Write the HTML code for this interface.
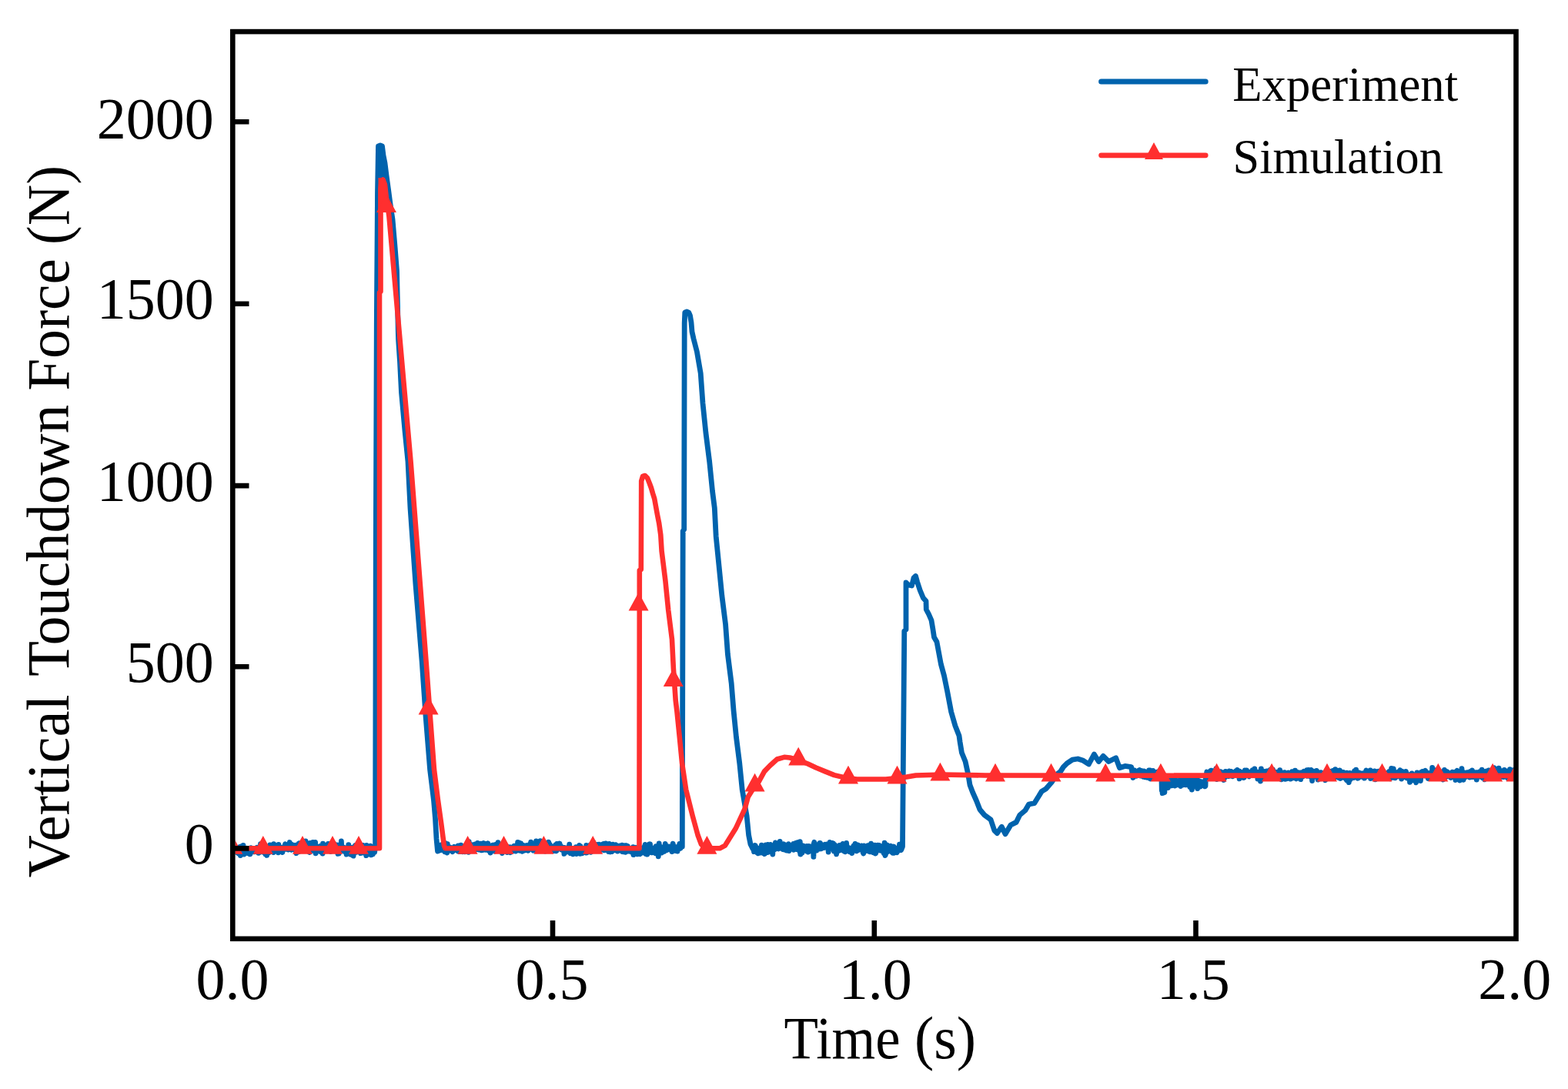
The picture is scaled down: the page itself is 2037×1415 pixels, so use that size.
<!DOCTYPE html>
<html><head><meta charset="utf-8"><title>Vertical Touchdown Force</title>
<style>
html,body{margin:0;padding:0;background:#fff;}
body{width:2037px;height:1415px;overflow:hidden;}
svg{display:block;}
text{font-family:"Liberation Serif","Times New Roman",serif;fill:#000;}
</style></head><body>
<svg width="2037" height="1415" viewBox="0 0 2037 1415">
<defs><clipPath id="pa"><rect x="305.5" y="44.3" width="1660.8" height="1172.3"/></clipPath></defs>
<rect width="2037" height="1415" fill="#fff"/>
<g clip-path="url(#pa)" fill="none" stroke-linejoin="round" stroke-linecap="butt">
<path d="M303.0 1104.0L303.4 1105.7L303.9 1104.1L304.3 1102.4L304.8 1103.5L305.2 1102.9L305.7 1104.2L306.1 1106.3L306.6 1101.7L307.0 1105.9L307.5 1105.1L307.9 1105.4L308.4 1107.9L308.8 1102.1L309.3 1107.1L309.7 1108.8L310.2 1103.2L310.6 1108.1L311.1 1100.7L311.5 1101.8L312.0 1103.3L312.4 1111.7L312.9 1100.0L313.3 1106.4L313.8 1106.1L314.2 1100.0L314.7 1102.6L315.1 1102.0L315.6 1107.6L316.0 1098.3L316.5 1106.6L316.9 1110.2L317.4 1104.8L317.8 1104.2L318.3 1105.4L318.7 1105.9L319.2 1106.5L319.6 1105.7L320.1 1104.1L320.5 1102.3L321.0 1105.2L321.4 1108.6L321.9 1105.5L322.3 1106.1L322.8 1107.9L323.2 1105.8L323.7 1103.1L324.1 1108.2L324.6 1103.9L325.0 1109.9L325.5 1106.2L325.9 1101.7L326.4 1107.5L326.8 1106.7L327.3 1105.9L327.7 1104.3L328.2 1104.3L328.6 1104.5L329.1 1102.8L329.5 1103.0L330.0 1104.7L330.4 1106.8L330.9 1103.5L331.3 1105.7L331.8 1104.9L332.2 1102.7L332.7 1103.3L333.1 1106.9L333.6 1104.1L334.0 1101.2L334.5 1105.7L334.9 1107.5L335.4 1104.7L335.8 1108.4L336.3 1102.5L336.7 1100.9L337.2 1102.5L337.6 1103.5L338.1 1107.1L338.5 1096.6L339.0 1105.0L339.4 1104.0L339.9 1103.1L340.3 1104.3L340.8 1100.3L341.2 1103.3L341.7 1101.9L342.1 1098.7L342.6 1105.4L343.0 1107.7L343.5 1103.4L343.9 1108.2L344.4 1102.5L344.8 1109.7L345.3 1108.0L345.7 1109.0L346.2 1106.9L346.6 1111.4L347.1 1104.7L347.5 1103.4L348.0 1105.5L348.4 1102.9L348.9 1108.2L349.3 1103.2L349.8 1105.2L350.2 1104.3L350.7 1097.9L351.1 1106.4L351.6 1103.1L352.0 1103.3L352.5 1103.4L352.9 1102.7L353.4 1100.4L353.8 1104.9L354.3 1105.0L354.7 1102.0L355.2 1107.5L355.6 1096.7L356.1 1100.4L356.5 1100.7L357.0 1103.0L357.4 1106.0L357.9 1100.4L358.3 1105.6L358.8 1102.8L359.2 1100.7L359.7 1103.5L360.1 1100.2L360.6 1098.3L361.0 1098.4L361.5 1107.8L361.9 1097.4L362.4 1103.6L362.8 1102.5L363.3 1100.3L363.7 1103.1L364.2 1101.4L364.6 1101.0L365.1 1102.6L365.5 1101.3L366.0 1102.3L366.4 1102.5L366.9 1107.5L367.3 1104.0L367.8 1104.2L368.2 1101.2L368.7 1102.9L369.1 1100.2L369.6 1100.2L370.0 1098.6L370.5 1096.8L370.9 1101.2L371.4 1099.7L371.8 1103.3L372.3 1100.1L372.7 1101.7L373.2 1101.9L373.6 1101.6L374.1 1103.2L374.5 1104.0L375.0 1100.5L375.4 1101.3L375.9 1097.4L376.3 1094.5L376.8 1102.0L377.2 1101.7L377.7 1097.7L378.1 1102.4L378.6 1104.2L379.0 1097.9L379.5 1097.6L379.9 1101.0L380.4 1100.2L380.8 1101.9L381.3 1098.3L381.7 1101.4L382.2 1103.6L382.6 1101.6L383.1 1104.4L383.5 1100.3L384.0 1098.3L384.4 1103.0L384.9 1108.6L385.3 1102.2L385.8 1101.6L386.2 1101.1L386.7 1098.6L387.1 1097.9L387.6 1096.6L388.0 1106.8L388.5 1098.9L388.9 1095.6L389.4 1098.3L389.8 1101.3L390.3 1099.3L390.7 1097.3L391.2 1096.5L391.6 1098.7L392.1 1102.5L392.5 1100.9L393.0 1102.8L393.4 1098.3L393.9 1100.9L394.3 1101.2L394.8 1100.3L395.2 1104.6L395.7 1102.2L396.1 1105.0L396.6 1100.0L397.0 1092.9L397.5 1100.1L397.9 1096.6L398.4 1096.9L398.8 1104.5L399.3 1099.5L399.7 1099.7L400.2 1095.8L400.6 1098.7L401.1 1102.9L401.5 1105.1L402.0 1107.6L402.4 1100.2L402.9 1095.5L403.3 1101.9L403.8 1104.0L404.2 1101.1L404.7 1103.3L405.1 1101.4L405.6 1100.0L406.0 1105.4L406.5 1094.3L406.9 1102.4L407.4 1104.3L407.8 1103.0L408.3 1103.6L408.7 1101.6L409.2 1104.7L409.6 1094.4L410.1 1108.9L410.5 1100.4L411.0 1107.0L411.4 1105.9L411.9 1102.8L412.3 1104.4L412.8 1105.9L413.2 1104.9L413.7 1105.6L414.1 1101.0L414.6 1102.0L415.0 1100.1L415.5 1099.7L415.9 1103.7L416.4 1100.9L416.8 1106.7L417.3 1101.0L417.7 1100.5L418.2 1102.8L418.6 1104.5L419.1 1109.2L419.5 1096.2L420.0 1101.8L420.4 1103.6L420.9 1103.0L421.3 1105.4L421.8 1098.2L422.2 1102.9L422.7 1103.2L423.1 1103.8L423.6 1103.9L424.0 1102.0L424.5 1099.8L424.9 1104.0L425.4 1102.6L425.8 1100.7L426.3 1096.4L426.7 1105.0L427.2 1104.8L427.6 1097.3L428.1 1103.5L428.5 1099.8L429.0 1096.5L429.4 1102.9L429.9 1106.5L430.3 1103.0L430.8 1100.3L431.2 1101.3L431.7 1105.3L432.1 1104.4L432.6 1100.4L433.0 1101.1L433.5 1104.8L433.9 1096.4L434.4 1101.2L434.8 1103.1L435.3 1101.7L435.7 1099.8L436.2 1098.5L436.6 1100.9L437.1 1100.2L437.5 1104.3L438.0 1097.9L438.4 1104.3L438.9 1109.4L439.3 1104.3L439.8 1100.4L440.2 1109.0L440.7 1105.4L441.1 1104.0L441.6 1102.0L442.0 1102.7L442.5 1105.6L442.9 1104.0L443.4 1093.0L443.8 1101.8L444.3 1104.3L444.7 1104.6L445.2 1102.0L445.6 1104.6L446.1 1105.8L446.5 1104.0L447.0 1101.2L447.4 1104.5L447.9 1105.7L448.3 1107.0L448.8 1105.4L449.2 1104.4L449.7 1104.9L450.1 1110.2L450.6 1106.8L451.0 1106.5L451.5 1107.6L451.9 1102.8L452.4 1107.3L452.8 1097.6L453.3 1104.4L453.7 1103.6L454.2 1103.7L454.6 1105.5L455.1 1108.5L455.5 1110.4L456.0 1108.0L456.4 1101.5L456.9 1107.6L457.3 1106.8L457.8 1106.1L458.2 1105.5L458.7 1101.6L459.1 1112.1L459.6 1106.1L460.0 1100.5L460.5 1104.9L460.9 1105.7L461.4 1103.7L461.8 1098.3L462.3 1102.0L462.7 1100.8L463.2 1107.3L463.6 1105.5L464.1 1101.7L464.5 1102.7L465.0 1103.1L465.4 1098.3L465.9 1096.2L466.3 1098.9L466.8 1106.1L467.2 1104.4L467.7 1104.1L468.1 1100.8L468.6 1108.7L469.0 1098.2L469.5 1101.6L469.9 1102.6L470.4 1106.4L470.8 1101.7L471.3 1098.4L471.7 1106.7L472.2 1108.0L472.6 1104.8L473.1 1102.6L473.5 1107.5L474.0 1107.6L474.4 1105.6L474.9 1108.5L475.3 1103.7L475.8 1111.7L476.2 1098.4L476.7 1101.2L477.1 1104.2L477.6 1101.1L478.0 1109.1L478.5 1106.9L478.9 1107.6L479.4 1105.9L479.8 1105.7L480.3 1099.4L480.7 1104.9L481.2 1099.2L481.6 1110.8L482.1 1110.9L482.5 1109.5L483.0 1110.7L483.4 1105.2L483.9 1105.2L484.3 1110.1L484.8 1102.8L485.2 1107.9L485.7 1107.4L486.1 1107.4L486.6 1107.5L487.6 1100.0L488.3 700.0L489.3 420.0L490.5 250.0L491.5 190.0L494.0 189.0L496.5 190.0L498.0 202.0L500.0 212.0L502.0 228.0L504.5 246.0L507.0 265.0L510.0 285.0L513.0 320.0L515.5 352.0L516.2 385.0L517.5 440.0L519.5 470.0L521.5 510.0L526.0 560.0L530.0 600.0L533.0 660.0L540.0 760.0L548.2 860.0L553.0 930.0L558.6 1000.0L563.5 1040.0L565.5 1064.0L567.0 1090.0L568.5 1106.0L570.0 1105.5L570.5 1101.3L570.9 1102.1L571.4 1105.0L571.8 1101.5L572.3 1100.6L572.7 1100.3L573.2 1102.9L573.6 1097.6L574.1 1102.4L574.5 1101.1L575.0 1102.7L575.4 1104.3L575.9 1102.8L576.3 1098.5L576.8 1102.4L577.2 1106.1L577.7 1106.7L578.1 1101.0L578.6 1095.7L579.0 1103.1L579.5 1096.9L579.9 1100.4L580.4 1106.9L580.8 1108.0L581.3 1096.6L581.7 1102.8L582.2 1102.1L582.6 1102.9L583.1 1103.7L583.5 1101.6L584.0 1105.2L584.4 1104.9L584.9 1100.8L585.3 1104.3L585.8 1102.5L586.2 1105.3L586.7 1105.9L587.1 1102.0L587.6 1102.4L588.0 1106.8L588.5 1103.4L588.9 1102.6L589.4 1102.9L589.8 1103.1L590.3 1100.3L590.7 1103.5L591.2 1101.4L591.6 1102.4L592.1 1104.5L592.5 1104.0L593.0 1101.0L593.4 1100.5L593.9 1102.3L594.3 1103.3L594.8 1105.7L595.2 1098.8L595.7 1103.7L596.1 1101.1L596.6 1106.7L597.0 1101.2L597.5 1106.6L597.9 1104.3L598.4 1106.3L598.8 1098.2L599.3 1102.4L599.7 1101.5L600.2 1104.3L600.6 1102.0L601.1 1106.8L601.5 1105.0L602.0 1104.8L602.4 1104.6L602.9 1103.8L603.3 1104.9L603.8 1106.9L604.2 1105.4L604.7 1099.2L605.1 1103.6L605.6 1101.3L606.0 1105.6L606.5 1101.5L606.9 1102.3L607.4 1106.5L607.8 1106.3L608.3 1101.6L608.7 1107.3L609.2 1093.6L609.6 1102.6L610.1 1096.6L610.5 1096.8L611.0 1101.3L611.4 1104.2L611.9 1101.3L612.3 1103.1L612.8 1099.6L613.2 1103.2L613.7 1100.6L614.1 1097.8L614.6 1105.1L615.0 1102.0L615.5 1100.6L615.9 1101.3L616.4 1102.3L616.8 1102.2L617.3 1097.0L617.7 1100.6L618.2 1102.1L618.6 1103.6L619.1 1103.4L619.5 1101.5L620.0 1102.8L620.4 1095.5L620.9 1100.8L621.3 1102.0L621.8 1097.9L622.2 1104.0L622.7 1100.0L623.1 1101.0L623.6 1101.0L624.0 1101.1L624.5 1096.2L624.9 1101.4L625.4 1104.8L625.8 1102.6L626.3 1099.7L626.7 1100.4L627.2 1104.7L627.6 1102.8L628.1 1098.2L628.5 1095.5L629.0 1103.7L629.4 1101.2L629.9 1103.6L630.3 1099.0L630.8 1104.3L631.2 1101.3L631.7 1096.5L632.1 1102.6L632.6 1098.7L633.0 1097.2L633.5 1097.8L633.9 1095.8L634.4 1102.8L634.8 1105.3L635.3 1102.1L635.7 1102.5L636.2 1100.7L636.6 1103.7L637.1 1108.0L637.5 1101.1L638.0 1106.4L638.4 1100.9L638.9 1105.7L639.3 1102.7L639.8 1104.6L640.2 1098.2L640.7 1100.2L641.1 1100.0L641.6 1103.9L642.0 1098.0L642.5 1102.9L642.9 1106.1L643.4 1102.3L643.8 1097.3L644.3 1098.8L644.7 1100.3L645.2 1100.3L645.6 1097.3L646.1 1098.4L646.5 1102.6L647.0 1094.7L647.4 1097.8L647.9 1096.5L648.3 1100.8L648.8 1103.5L649.2 1105.1L649.7 1104.1L650.1 1101.3L650.6 1098.7L651.0 1100.9L651.5 1102.3L651.9 1105.4L652.4 1108.6L652.8 1105.1L653.3 1103.8L653.7 1103.7L654.2 1101.0L654.6 1104.0L655.1 1101.9L655.5 1104.1L656.0 1100.5L656.4 1098.4L656.9 1099.9L657.3 1104.1L657.8 1105.9L658.2 1103.9L658.7 1099.8L659.1 1107.5L659.6 1105.0L660.0 1101.9L660.5 1103.1L660.9 1100.9L661.4 1102.2L661.8 1101.3L662.3 1100.8L662.7 1104.6L663.2 1107.7L663.6 1100.9L664.1 1102.5L664.5 1103.4L665.0 1105.9L665.4 1105.6L665.9 1105.5L666.3 1104.6L666.8 1102.6L667.2 1100.2L667.7 1105.5L668.1 1099.1L668.6 1102.0L669.0 1105.5L669.5 1100.5L669.9 1106.0L670.4 1101.9L670.8 1103.8L671.3 1104.2L671.7 1099.3L672.2 1099.2L672.6 1094.5L673.1 1104.2L673.5 1100.3L674.0 1098.1L674.4 1094.9L674.9 1097.6L675.3 1105.3L675.8 1101.9L676.2 1102.7L676.7 1095.8L677.1 1099.8L677.6 1097.4L678.0 1099.9L678.5 1106.3L678.9 1100.8L679.4 1099.5L679.8 1098.2L680.3 1101.2L680.7 1103.5L681.2 1102.5L681.6 1102.5L682.1 1105.0L682.5 1103.3L683.0 1100.5L683.4 1099.1L683.9 1099.5L684.3 1098.6L684.8 1099.9L685.2 1098.8L685.7 1101.8L686.1 1105.3L686.6 1099.7L687.0 1102.6L687.5 1100.0L687.9 1103.7L688.4 1096.8L688.8 1099.0L689.3 1099.4L689.7 1094.1L690.2 1102.0L690.6 1099.5L691.1 1102.4L691.5 1102.7L692.0 1101.9L692.4 1099.8L692.9 1105.1L693.3 1104.9L693.8 1100.2L694.2 1100.5L694.7 1104.8L695.1 1100.9L695.6 1099.1L696.0 1098.1L696.5 1093.0L696.9 1102.3L697.4 1104.1L697.8 1100.5L698.3 1104.1L698.7 1102.0L699.2 1097.4L699.6 1098.1L700.1 1102.5L700.5 1103.4L701.0 1097.1L701.4 1100.8L701.9 1092.7L702.3 1100.5L702.8 1098.0L703.2 1094.5L703.7 1100.5L704.1 1100.2L704.6 1104.0L705.0 1097.5L705.5 1097.2L705.9 1100.8L706.4 1104.4L706.8 1096.6L707.3 1104.1L707.7 1099.8L708.2 1106.1L708.6 1102.9L709.1 1095.8L709.5 1098.8L710.0 1102.4L710.4 1099.1L710.9 1097.7L711.3 1100.5L711.8 1103.7L712.2 1102.0L712.7 1094.1L713.1 1095.8L713.6 1098.5L714.0 1099.6L714.5 1097.4L714.9 1102.5L715.4 1100.3L715.8 1099.3L716.3 1101.2L716.7 1102.4L717.2 1100.8L717.6 1101.3L718.1 1103.5L718.5 1100.5L719.0 1105.7L719.4 1101.4L719.9 1099.6L720.3 1100.4L720.8 1100.4L721.2 1102.2L721.7 1097.8L722.1 1103.6L722.6 1105.9L723.0 1105.6L723.5 1096.3L723.9 1097.1L724.4 1101.4L724.8 1101.5L725.3 1099.7L725.7 1102.4L726.2 1100.2L726.6 1098.9L727.1 1096.0L727.5 1102.8L728.0 1100.1L728.4 1099.1L728.9 1103.1L729.3 1104.0L729.8 1104.0L730.2 1104.4L730.7 1102.4L731.1 1101.0L731.6 1104.0L732.0 1105.7L732.5 1103.5L732.9 1109.4L733.4 1101.3L733.8 1104.5L734.3 1102.6L734.7 1107.5L735.2 1104.9L735.6 1104.8L736.1 1104.1L736.5 1104.7L737.0 1104.4L737.4 1104.7L737.9 1102.8L738.3 1106.9L738.8 1100.5L739.2 1103.2L739.7 1097.2L740.1 1105.7L740.6 1104.0L741.0 1108.8L741.5 1105.3L741.9 1104.8L742.4 1105.0L742.8 1102.9L743.3 1104.4L743.7 1105.4L744.2 1107.5L744.6 1109.8L745.1 1106.5L745.5 1103.1L746.0 1105.4L746.4 1104.0L746.9 1104.1L747.3 1104.7L747.8 1103.6L748.2 1100.7L748.7 1108.0L749.1 1109.5L749.6 1105.0L750.0 1101.9L750.5 1102.4L750.9 1103.6L751.4 1103.6L751.8 1102.4L752.3 1105.9L752.7 1098.5L753.2 1100.2L753.6 1109.3L754.1 1099.4L754.5 1101.0L755.0 1106.0L755.4 1103.7L755.9 1104.1L756.3 1108.9L756.8 1107.8L757.2 1102.4L757.7 1104.1L758.1 1103.3L758.6 1105.9L759.0 1102.2L759.5 1104.4L759.9 1106.9L760.4 1107.3L760.8 1108.0L761.3 1108.1L761.7 1098.5L762.2 1105.8L762.6 1107.8L763.1 1102.9L763.5 1105.2L764.0 1104.8L764.4 1101.7L764.9 1100.4L765.3 1103.1L765.8 1099.3L766.2 1099.1L766.7 1098.0L767.1 1106.4L767.6 1107.3L768.0 1098.2L768.5 1101.3L768.9 1100.2L769.4 1099.7L769.8 1103.8L770.3 1098.6L770.7 1094.1L771.2 1100.0L771.6 1105.2L772.1 1104.6L772.5 1097.9L773.0 1102.0L773.4 1102.8L773.9 1101.4L774.3 1103.9L774.8 1103.9L775.2 1100.0L775.7 1099.6L776.1 1097.4L776.6 1100.2L777.0 1102.9L777.5 1103.5L777.9 1104.7L778.4 1097.2L778.8 1099.1L779.3 1104.7L779.7 1105.3L780.2 1102.4L780.6 1101.7L781.1 1101.3L781.5 1101.0L782.0 1102.5L782.4 1098.7L782.9 1097.0L783.3 1098.9L783.8 1099.6L784.2 1096.3L784.7 1099.4L785.1 1104.9L785.6 1100.2L786.0 1100.5L786.5 1102.5L786.9 1095.8L787.4 1101.6L787.8 1099.9L788.3 1103.4L788.7 1104.7L789.2 1097.3L789.6 1100.3L790.1 1104.1L790.5 1106.5L791.0 1104.5L791.4 1096.3L791.9 1102.7L792.3 1105.8L792.8 1106.9L793.2 1100.4L793.7 1099.3L794.1 1100.6L794.6 1104.3L795.0 1106.6L795.5 1104.5L795.9 1103.8L796.4 1097.1L796.8 1098.6L797.3 1101.8L797.7 1099.7L798.2 1103.7L798.6 1104.7L799.1 1101.1L799.5 1100.6L800.0 1097.7L800.4 1101.1L800.9 1099.4L801.3 1102.5L801.8 1100.1L802.2 1106.0L802.7 1101.8L803.1 1102.6L803.6 1103.8L804.0 1101.5L804.5 1100.5L804.9 1099.1L805.4 1100.4L805.8 1104.8L806.3 1102.5L806.7 1102.4L807.2 1102.7L807.6 1103.4L808.1 1098.2L808.5 1106.5L809.0 1101.4L809.4 1099.4L809.9 1106.8L810.3 1101.2L810.8 1105.5L811.2 1105.8L811.7 1098.7L812.1 1103.8L812.6 1107.3L813.0 1105.9L813.5 1098.7L813.9 1104.9L814.4 1101.7L814.8 1104.4L815.3 1099.5L815.7 1103.7L816.2 1101.2L816.6 1106.1L817.1 1103.7L817.5 1104.5L818.0 1104.2L818.4 1106.2L818.9 1102.7L819.3 1104.5L819.8 1104.0L820.2 1103.1L820.7 1107.2L821.1 1107.5L821.6 1107.6L822.0 1106.8L822.5 1100.7L822.9 1110.7L823.4 1103.7L823.8 1108.4L824.3 1108.6L824.7 1103.1L825.2 1103.3L825.6 1103.6L826.1 1101.3L826.5 1104.9L827.0 1101.8L827.4 1103.5L827.9 1107.5L828.3 1109.9L828.8 1107.8L829.2 1103.1L829.7 1105.4L830.1 1105.6L830.6 1105.0L831.0 1108.3L831.5 1109.7L831.9 1104.2L832.4 1104.9L832.8 1102.5L833.3 1104.1L833.7 1102.7L834.2 1103.5L834.6 1108.1L835.1 1101.8L835.5 1105.8L836.0 1103.3L836.4 1106.8L836.9 1103.0L837.3 1099.7L837.8 1101.8L838.2 1097.5L838.7 1100.1L839.1 1109.5L839.6 1105.7L840.0 1105.5L840.5 1105.7L840.9 1110.1L841.4 1101.1L841.8 1104.8L842.3 1101.7L842.7 1105.0L843.2 1101.7L843.6 1096.8L844.1 1104.7L844.5 1096.9L845.0 1102.8L845.4 1105.5L845.9 1104.1L846.3 1107.9L846.8 1103.1L847.2 1101.8L847.7 1105.9L848.1 1107.7L848.6 1104.5L849.0 1106.4L849.5 1103.8L849.9 1106.0L850.4 1103.8L850.8 1101.8L851.3 1107.0L851.7 1108.7L852.2 1099.7L852.6 1104.3L853.1 1107.5L853.5 1106.5L854.0 1103.3L854.4 1105.1L854.9 1105.4L855.3 1112.8L855.8 1104.7L856.2 1095.9L856.7 1106.1L857.1 1105.6L857.6 1103.3L858.0 1101.0L858.5 1100.3L858.9 1105.4L859.4 1108.1L859.8 1104.2L860.3 1107.4L860.7 1105.2L861.2 1103.0L861.6 1101.1L862.1 1104.7L862.5 1101.4L863.0 1106.4L863.4 1106.0L863.9 1103.5L864.3 1096.3L864.8 1098.8L865.2 1102.2L865.7 1101.3L866.1 1103.5L866.6 1104.5L867.0 1103.5L867.5 1102.7L867.9 1102.6L868.4 1100.1L868.8 1101.2L869.3 1100.1L869.7 1103.5L870.2 1103.3L870.6 1100.9L871.1 1100.3L871.5 1103.5L872.0 1102.6L872.4 1099.7L872.9 1106.6L873.3 1101.8L873.8 1098.9L874.2 1096.1L874.7 1099.3L875.1 1104.6L875.6 1103.9L876.0 1102.5L876.5 1105.3L876.9 1100.6L877.4 1101.8L877.8 1103.7L878.3 1105.6L878.7 1100.6L879.2 1104.1L879.6 1102.8L880.1 1106.1L880.5 1101.9L881.0 1101.5L881.4 1101.9L881.9 1103.2L882.3 1100.1L882.8 1096.5L883.2 1099.9L883.7 1099.9L884.1 1102.3L884.6 1099.9L886.3 1100.0L887.2 690.0L888.7 688.0L889.2 420.0L889.8 406.0L892.5 405.0L894.8 406.0L896.5 410.0L898.0 419.0L899.0 431.0L901.0 440.0L905.4 457.0L910.2 485.0L913.0 524.0L916.9 562.0L921.7 600.0L925.5 638.0L928.3 660.0L930.2 697.0L934.0 735.0L937.8 773.5L942.6 811.7L945.4 850.0L950.2 888.0L953.1 924.0L956.5 958.0L960.8 992.0L964.2 1026.0L970.1 1060.0L972.6 1085.0L975.0 1097.0L978.0 1103.0L979.0 1103.6L979.5 1106.6L979.9 1103.2L980.4 1099.7L980.8 1098.4L981.3 1098.6L981.7 1101.6L982.2 1100.3L982.6 1106.8L983.1 1105.2L983.5 1107.6L984.0 1101.9L984.4 1106.1L984.9 1108.8L985.3 1108.2L985.8 1107.0L986.2 1102.9L986.7 1103.5L987.1 1102.4L987.6 1103.0L988.0 1108.2L988.5 1102.1L988.9 1107.0L989.4 1098.2L989.8 1107.6L990.3 1105.1L990.7 1104.2L991.2 1101.8L991.6 1107.3L992.1 1108.8L992.5 1103.2L993.0 1105.1L993.4 1109.7L993.9 1106.4L994.3 1101.6L994.8 1098.0L995.2 1106.6L995.7 1104.0L996.1 1106.1L996.6 1103.9L997.0 1107.6L997.5 1097.4L997.9 1107.3L998.4 1104.6L998.8 1104.4L999.3 1101.1L999.7 1104.3L1000.2 1106.5L1000.6 1102.5L1001.1 1097.5L1001.5 1100.0L1002.0 1105.3L1002.4 1103.9L1002.9 1100.3L1003.3 1103.2L1003.8 1110.1L1004.2 1100.7L1004.7 1101.3L1005.1 1104.5L1005.6 1103.2L1006.0 1098.5L1006.5 1103.8L1006.9 1098.8L1007.4 1094.8L1007.8 1099.2L1008.3 1095.8L1008.7 1098.1L1009.2 1097.5L1009.6 1098.1L1010.1 1095.9L1010.5 1099.0L1011.0 1101.4L1011.4 1103.0L1011.9 1097.8L1012.3 1098.0L1012.8 1100.1L1013.2 1093.3L1013.7 1097.5L1014.1 1101.7L1014.6 1097.6L1015.0 1097.0L1015.5 1101.4L1015.9 1098.6L1016.4 1098.6L1016.8 1103.6L1017.3 1103.7L1017.7 1098.9L1018.2 1096.8L1018.6 1101.1L1019.1 1100.7L1019.5 1104.0L1020.0 1097.6L1020.4 1100.3L1020.9 1099.3L1021.3 1100.5L1021.8 1105.2L1022.2 1104.9L1022.7 1098.3L1023.1 1101.1L1023.6 1101.0L1024.0 1098.0L1024.5 1096.7L1024.9 1105.7L1025.4 1102.5L1025.8 1101.3L1026.3 1100.1L1026.7 1099.6L1027.2 1101.9L1027.6 1100.5L1028.1 1101.6L1028.5 1099.2L1029.0 1099.0L1029.4 1098.5L1029.9 1101.5L1030.3 1100.0L1030.8 1096.5L1031.2 1104.3L1031.7 1103.1L1032.1 1098.3L1032.6 1098.3L1033.0 1100.3L1033.5 1099.7L1033.9 1095.4L1034.4 1103.5L1034.8 1103.6L1035.3 1095.7L1035.7 1098.4L1036.2 1094.6L1036.6 1101.0L1037.1 1098.2L1037.5 1101.4L1038.0 1098.7L1038.4 1095.0L1038.9 1106.4L1039.3 1093.6L1039.8 1110.0L1040.2 1101.4L1040.7 1103.6L1041.1 1104.7L1041.6 1103.9L1042.0 1108.3L1042.5 1101.5L1042.9 1106.0L1043.4 1099.0L1043.8 1101.6L1044.3 1101.5L1044.7 1102.2L1045.2 1102.9L1045.6 1103.2L1046.1 1103.7L1046.5 1104.1L1047.0 1103.8L1047.4 1101.0L1047.9 1106.0L1048.3 1099.5L1048.8 1102.5L1049.2 1100.0L1049.7 1102.7L1050.1 1107.1L1050.6 1099.5L1051.0 1101.9L1051.5 1106.0L1051.9 1100.7L1052.4 1104.6L1052.8 1099.8L1053.3 1102.8L1053.7 1102.5L1054.2 1102.4L1054.6 1103.6L1055.1 1105.4L1055.5 1104.8L1056.0 1100.9L1056.4 1099.4L1056.9 1113.4L1057.3 1096.3L1057.8 1094.2L1058.2 1096.8L1058.7 1099.1L1059.1 1099.1L1059.6 1103.9L1060.0 1104.9L1060.5 1102.0L1060.9 1105.2L1061.4 1101.0L1061.8 1098.3L1062.3 1100.6L1062.7 1098.9L1063.2 1100.4L1063.6 1097.7L1064.1 1099.8L1064.5 1103.2L1065.0 1095.3L1065.4 1095.3L1065.9 1101.0L1066.3 1101.6L1066.8 1097.2L1067.2 1102.8L1067.7 1101.8L1068.1 1100.7L1068.6 1099.8L1069.0 1098.1L1069.5 1099.2L1069.9 1098.0L1070.4 1101.7L1070.8 1099.1L1071.3 1099.0L1071.7 1097.3L1072.2 1098.9L1072.6 1101.1L1073.1 1098.5L1073.5 1097.8L1074.0 1097.1L1074.4 1100.6L1074.9 1101.2L1075.3 1097.3L1075.8 1101.2L1076.2 1107.0L1076.7 1097.2L1077.1 1103.0L1077.6 1097.6L1078.0 1094.3L1078.5 1100.4L1078.9 1098.1L1079.4 1101.3L1079.8 1097.3L1080.3 1100.4L1080.7 1101.1L1081.2 1095.5L1081.6 1101.7L1082.1 1101.2L1082.5 1095.9L1083.0 1104.5L1083.4 1106.0L1083.9 1104.5L1084.3 1097.6L1084.8 1105.6L1085.2 1103.0L1085.7 1103.0L1086.1 1104.6L1086.6 1109.8L1087.0 1102.7L1087.5 1105.3L1087.9 1099.8L1088.4 1104.8L1088.8 1103.3L1089.3 1103.9L1089.7 1105.4L1090.2 1103.2L1090.6 1098.4L1091.1 1102.8L1091.5 1100.4L1092.0 1104.5L1092.4 1099.3L1092.9 1104.3L1093.3 1103.0L1093.8 1103.0L1094.2 1098.2L1094.7 1096.4L1095.1 1098.7L1095.6 1104.0L1096.0 1105.7L1096.5 1106.0L1096.9 1101.1L1097.4 1100.9L1097.8 1103.0L1098.3 1106.9L1098.7 1102.1L1099.2 1103.6L1099.6 1095.4L1100.1 1101.8L1100.5 1104.3L1101.0 1104.6L1101.4 1105.0L1101.9 1101.0L1102.3 1101.9L1102.8 1105.2L1103.2 1105.6L1103.7 1106.8L1104.1 1105.3L1104.6 1103.4L1105.0 1106.3L1105.5 1102.4L1105.9 1105.9L1106.4 1105.4L1106.8 1108.6L1107.3 1101.3L1107.7 1104.4L1108.2 1103.0L1108.6 1104.3L1109.1 1099.0L1109.5 1103.2L1110.0 1103.5L1110.4 1100.7L1110.9 1096.4L1111.3 1105.0L1111.8 1099.8L1112.2 1099.2L1112.7 1103.6L1113.1 1105.9L1113.6 1100.3L1114.0 1102.3L1114.5 1097.8L1114.9 1100.2L1115.4 1104.0L1115.8 1104.2L1116.3 1100.6L1116.7 1103.5L1117.2 1100.3L1117.6 1099.6L1118.1 1102.4L1118.5 1100.4L1119.0 1103.7L1119.4 1098.8L1119.9 1101.3L1120.3 1100.5L1120.8 1102.7L1121.2 1108.0L1121.7 1109.0L1122.1 1103.4L1122.6 1099.0L1123.0 1102.5L1123.5 1104.8L1123.9 1102.6L1124.4 1103.0L1124.8 1102.2L1125.3 1105.6L1125.7 1103.8L1126.2 1102.9L1126.6 1102.0L1127.1 1103.1L1127.5 1098.6L1128.0 1104.2L1128.4 1100.4L1128.9 1106.2L1129.3 1103.1L1129.8 1103.7L1130.2 1104.3L1130.7 1106.8L1131.1 1101.7L1131.6 1096.2L1132.0 1101.0L1132.5 1100.8L1132.9 1101.1L1133.4 1101.3L1133.8 1103.6L1134.3 1100.7L1134.7 1107.9L1135.2 1099.9L1135.6 1099.0L1136.1 1104.8L1136.5 1098.2L1137.0 1102.6L1137.4 1109.0L1137.9 1108.4L1138.3 1101.9L1138.8 1101.7L1139.2 1104.2L1139.7 1099.0L1140.1 1104.1L1140.6 1098.2L1141.0 1100.8L1141.5 1100.3L1141.9 1099.0L1142.4 1098.6L1142.8 1104.0L1143.3 1105.0L1143.7 1100.6L1144.2 1103.7L1144.6 1105.2L1145.1 1104.0L1145.5 1103.2L1146.0 1099.4L1146.4 1100.6L1146.9 1100.2L1147.3 1100.0L1147.8 1103.9L1148.2 1108.8L1148.7 1100.4L1149.1 1095.1L1149.6 1103.1L1150.0 1111.5L1150.5 1110.2L1150.9 1104.9L1151.4 1102.2L1151.8 1100.7L1152.3 1097.9L1152.7 1107.0L1153.2 1105.3L1153.6 1106.0L1154.1 1102.8L1154.5 1105.1L1155.0 1105.4L1155.4 1100.9L1155.9 1105.9L1156.3 1101.2L1156.8 1102.9L1157.2 1099.1L1157.7 1103.0L1158.1 1105.0L1158.6 1107.1L1159.0 1106.8L1159.5 1105.0L1159.9 1108.4L1160.4 1100.9L1160.8 1102.9L1161.3 1100.0L1161.7 1108.3L1162.2 1103.0L1162.6 1107.4L1163.1 1105.0L1163.5 1101.8L1164.0 1103.3L1164.4 1105.6L1164.9 1106.6L1165.3 1107.7L1165.8 1103.7L1166.2 1105.0L1166.7 1105.1L1167.1 1102.2L1167.6 1105.2L1168.0 1104.2L1168.5 1097.2L1168.9 1103.9L1169.4 1103.6L1169.8 1098.6L1170.3 1102.8L1170.7 1104.6L1172.5 1100.0L1174.8 820.0L1177.0 818.0L1177.0 757.0L1180.0 760.0L1184.5 761.0L1187.0 751.0L1189.5 748.5L1191.6 756.0L1195.2 767.0L1199.4 777.0L1203.0 781.0L1203.3 792.0L1206.5 798.0L1210.0 806.0L1212.0 818.0L1213.5 828.0L1217.0 834.0L1218.3 841.0L1222.4 863.0L1226.5 878.0L1230.6 898.0L1235.7 925.0L1240.9 943.0L1246.0 956.0L1247.1 964.0L1249.4 978.0L1254.1 989.5L1257.7 1006.0L1260.0 1020.0L1263.6 1029.5L1268.3 1040.0L1273.0 1052.0L1278.9 1059.0L1287.1 1065.0L1291.8 1079.0L1295.4 1082.6L1301.3 1074.3L1306.0 1083.7L1313.0 1072.0L1320.1 1068.4L1324.8 1059.0L1331.9 1053.0L1336.6 1045.0L1343.7 1043.7L1349.6 1034.3L1353.1 1028.4L1359.0 1024.8L1366.1 1016.6L1373.1 1006.0L1377.8 1002.4L1381.4 996.6L1386.1 991.8L1393.2 987.1L1400.2 986.0L1407.3 988.3L1414.4 993.0L1421.4 980.1L1427.3 989.5L1433.2 982.4L1440.3 989.5L1449.7 984.8L1454.4 997.7L1461.5 995.4L1469.7 996.6L1471.0 1005.3L1471.5 1005.4L1471.9 1010.5L1472.4 1004.0L1472.8 1004.9L1473.3 1007.2L1473.7 1001.0L1474.2 1005.7L1474.6 1004.0L1475.1 1005.6L1475.5 1006.8L1476.0 1003.6L1476.4 1008.3L1476.9 1004.9L1477.3 1007.4L1477.8 1004.3L1478.2 1006.6L1478.7 1006.8L1479.1 1003.5L1479.6 1001.0L1480.0 1002.2L1480.5 1000.5L1480.9 1007.0L1481.4 1008.0L1481.8 1002.5L1482.3 1007.8L1482.7 1002.4L1483.2 1001.5L1483.6 1005.6L1484.1 1006.8L1484.5 1007.6L1485.0 1009.2L1485.4 1008.1L1485.9 1008.4L1486.3 1001.8L1486.8 1004.0L1487.2 1007.7L1487.7 1005.9L1488.1 1009.9L1488.6 1006.0L1489.0 1009.2L1489.5 1003.6L1489.9 1006.6L1490.4 1010.4L1490.8 1010.0L1491.3 1002.6L1491.7 1005.5L1492.2 1005.0L1492.6 1000.9L1493.1 1004.4L1493.5 1009.7L1494.0 1000.9L1494.4 1012.0L1494.9 1006.8L1495.3 1004.8L1495.8 1002.6L1496.2 1003.7L1496.7 1005.7L1497.1 1002.6L1497.6 1005.5L1498.0 1001.5L1498.5 1003.9L1498.9 1011.5L1499.4 1004.9L1499.8 1004.1L1500.3 1008.0L1500.7 1004.0L1501.2 1006.9L1501.6 1006.6L1502.1 1005.6L1502.5 1006.8L1503.0 1003.2L1503.4 1007.5L1503.9 1008.7L1504.3 1009.0L1504.8 1004.8L1505.2 1002.8L1505.7 1002.2L1506.1 1010.4L1506.6 1005.2L1507.0 1007.3L1507.5 1000.6L1507.9 1007.8L1508.4 1006.4L1508.8 1004.4L1509.3 1027.0L1509.7 1022.9L1510.2 1030.7L1510.6 1028.9L1511.1 1026.3L1511.5 1027.9L1512.0 1023.7L1512.4 1027.3L1512.9 1029.7L1513.3 1020.2L1513.8 1016.4L1514.2 1016.4L1514.7 1015.6L1515.1 1014.5L1515.6 1013.1L1516.0 1012.2L1516.5 1018.8L1516.9 1016.0L1517.4 1023.6L1517.8 1016.6L1518.3 1014.2L1518.7 1013.5L1519.2 1014.5L1519.6 1014.9L1520.1 1020.9L1520.5 1018.1L1521.0 1014.3L1521.4 1016.0L1521.9 1020.4L1522.3 1018.0L1522.8 1020.7L1523.2 1019.9L1523.7 1017.3L1524.1 1017.0L1524.6 1018.5L1525.0 1012.2L1525.5 1013.6L1525.9 1014.2L1526.4 1021.0L1526.8 1016.6L1527.3 1017.6L1527.7 1014.7L1528.2 1014.3L1528.6 1019.3L1529.1 1019.7L1529.5 1018.4L1530.0 1018.1L1530.4 1016.7L1530.9 1015.0L1531.3 1016.6L1531.8 1019.9L1532.2 1019.5L1532.7 1013.9L1533.1 1013.3L1533.6 1012.0L1534.0 1021.6L1534.5 1020.6L1534.9 1017.2L1535.4 1017.7L1535.8 1012.2L1536.3 1017.8L1536.7 1014.8L1537.2 1009.7L1537.6 1019.8L1538.1 1017.4L1538.5 1015.7L1539.0 1013.5L1539.4 1017.7L1539.9 1018.2L1540.3 1014.8L1540.8 1019.9L1541.2 1019.5L1541.7 1018.6L1542.1 1013.1L1542.6 1018.2L1543.0 1019.3L1543.5 1019.0L1543.9 1013.6L1544.4 1009.5L1544.8 1014.9L1545.3 1017.8L1545.7 1022.5L1546.2 1014.2L1546.6 1018.4L1547.1 1013.9L1547.5 1022.8L1548.0 1018.3L1548.4 1026.0L1548.9 1016.6L1549.3 1017.5L1549.8 1018.8L1550.2 1016.8L1550.7 1010.8L1551.1 1018.5L1551.6 1018.4L1552.0 1016.8L1552.5 1020.5L1552.9 1017.6L1553.4 1014.6L1553.8 1021.9L1554.3 1018.3L1554.7 1013.7L1555.2 1021.3L1555.6 1024.7L1556.1 1015.9L1556.5 1018.8L1557.0 1019.0L1557.4 1014.5L1557.9 1017.9L1558.3 1017.6L1558.8 1017.6L1559.2 1021.4L1559.7 1022.0L1560.1 1017.7L1560.6 1018.5L1561.0 1015.7L1561.5 1019.8L1561.9 1016.0L1562.4 1019.8L1562.8 1017.5L1563.3 1019.3L1563.7 1016.5L1564.2 1020.9L1564.6 1020.0L1565.1 1019.6L1565.5 1021.9L1566.0 1021.3L1566.4 1008.0L1566.9 1006.2L1567.3 1006.4L1567.8 1003.0L1568.2 1005.7L1568.7 1004.7L1569.1 1006.4L1569.6 1007.9L1570.0 1009.6L1570.5 1005.4L1570.9 1006.8L1571.4 1004.7L1571.8 1003.8L1572.3 1001.7L1572.7 1002.9L1573.2 1001.1L1573.6 1006.3L1574.1 1009.2L1574.5 1009.0L1575.0 1006.7L1575.4 1001.6L1575.9 1007.9L1576.3 1008.4L1576.8 1006.8L1577.2 1006.1L1577.7 1007.5L1578.1 1003.8L1578.6 1007.3L1579.0 1007.6L1579.5 1010.5L1579.9 998.6L1580.4 1008.4L1580.8 1012.5L1581.3 1005.4L1581.7 1006.1L1582.2 1009.9L1582.6 1010.0L1583.1 1007.4L1583.5 1007.3L1584.0 1003.9L1584.4 1008.9L1584.9 1009.1L1585.3 1008.4L1585.8 1002.7L1586.2 1004.9L1586.7 1009.6L1587.1 1003.6L1587.6 1011.7L1588.0 1010.6L1588.5 1007.3L1588.9 1008.6L1589.4 1010.4L1589.8 1013.5L1590.3 1006.8L1590.7 1010.9L1591.2 1005.3L1591.6 1006.6L1592.1 1002.4L1592.5 1007.7L1593.0 1005.5L1593.4 1004.3L1593.9 1005.7L1594.3 1007.8L1594.8 1005.3L1595.2 1003.3L1595.7 1003.3L1596.1 1008.7L1596.6 1004.7L1597.0 1001.8L1597.5 1006.1L1597.9 1007.0L1598.4 1004.7L1598.8 1006.9L1599.3 1002.4L1599.7 1008.2L1600.2 1005.3L1600.6 1007.1L1601.1 1006.0L1601.5 1008.9L1602.0 1003.9L1602.4 1005.0L1602.9 1007.6L1603.3 1006.2L1603.8 1005.5L1604.2 1007.5L1604.7 1002.6L1605.1 1002.2L1605.6 1005.7L1606.0 1006.6L1606.5 1001.5L1606.9 1003.3L1607.4 1000.4L1607.8 1003.8L1608.3 1006.5L1608.7 1007.0L1609.2 1005.0L1609.6 1005.5L1610.1 1011.9L1610.5 1002.1L1611.0 1002.6L1611.4 1002.9L1611.9 1005.4L1612.3 1005.7L1612.8 1004.8L1613.2 1003.4L1613.7 1003.7L1614.1 1009.6L1614.6 1004.8L1615.0 1005.4L1615.5 1006.3L1615.9 1010.6L1616.4 1004.1L1616.8 1007.1L1617.3 1000.8L1617.7 1003.6L1618.2 1006.0L1618.6 1008.1L1619.1 1004.8L1619.5 1001.0L1620.0 1004.5L1620.4 1005.8L1620.9 1004.7L1621.3 1002.5L1621.8 1004.6L1622.2 1008.3L1622.7 1008.9L1623.1 1005.7L1623.6 1004.3L1624.0 1007.5L1624.5 1004.3L1624.9 1003.5L1625.4 1005.0L1625.8 1003.3L1626.3 1002.0L1626.7 1005.2L1627.2 1000.6L1627.6 1007.7L1628.1 1006.4L1628.5 1004.2L1629.0 1000.5L1629.4 1005.5L1629.9 998.8L1630.3 1004.6L1630.8 1004.7L1631.2 1005.4L1631.7 1007.1L1632.1 1005.1L1632.6 1005.5L1633.0 1006.6L1633.5 1003.2L1633.9 1012.2L1634.4 1006.1L1634.8 1011.9L1635.3 1008.8L1635.7 1008.2L1636.2 1005.9L1636.6 1005.1L1637.1 1007.9L1637.5 1015.1L1638.0 1007.2L1638.4 998.9L1638.9 1007.0L1639.3 1001.5L1639.8 1007.4L1640.2 1007.5L1640.7 1007.1L1641.1 1005.4L1641.6 1008.7L1642.0 1007.0L1642.5 1005.0L1642.9 1002.5L1643.4 1007.5L1643.8 1008.6L1644.3 1004.1L1644.7 1006.2L1645.2 1004.8L1645.6 1001.9L1646.1 1002.2L1646.5 1005.6L1647.0 1010.8L1647.4 1008.3L1647.9 1008.5L1648.3 1001.6L1648.8 1004.2L1649.2 1001.3L1649.7 1000.6L1650.1 1000.4L1650.6 1000.0L1651.0 1007.5L1651.5 1007.3L1651.9 1002.9L1652.4 1001.1L1652.8 1001.8L1653.3 1005.7L1653.7 999.9L1654.2 1003.5L1654.6 1005.0L1655.1 1005.9L1655.5 1006.2L1656.0 1006.5L1656.4 1008.5L1656.9 1007.8L1657.3 1007.9L1657.8 1003.5L1658.2 1003.3L1658.7 1009.9L1659.1 1009.2L1659.6 1004.1L1660.0 1006.0L1660.5 1005.3L1660.9 1011.1L1661.4 1007.2L1661.8 1006.2L1662.3 1006.0L1662.7 1000.6L1663.2 1005.0L1663.6 1006.6L1664.1 1008.2L1664.5 1012.8L1665.0 1003.8L1665.4 1008.5L1665.9 1010.1L1666.3 1009.2L1666.8 1007.8L1667.2 1007.2L1667.7 1003.9L1668.1 1010.8L1668.6 1005.9L1669.0 1003.7L1669.5 1012.3L1669.9 1009.5L1670.4 1012.2L1670.8 1007.0L1671.3 1007.9L1671.7 1005.1L1672.2 1008.2L1672.6 1011.6L1673.1 1009.0L1673.5 1007.6L1674.0 1004.0L1674.4 1006.8L1674.9 1009.8L1675.3 1007.2L1675.8 1008.2L1676.2 1006.1L1676.7 1012.1L1677.1 1009.7L1677.6 1011.0L1678.0 1008.6L1678.5 1002.6L1678.9 1004.3L1679.4 1010.9L1679.8 1008.3L1680.3 1006.8L1680.7 1009.0L1681.2 1008.2L1681.6 1009.2L1682.1 1010.8L1682.5 1001.2L1683.0 1009.1L1683.4 1011.4L1683.9 1011.8L1684.3 1006.1L1684.8 1009.8L1685.2 1007.3L1685.7 1003.9L1686.1 1010.0L1686.6 1003.7L1687.0 1006.6L1687.5 1006.9L1687.9 1011.3L1688.4 1007.7L1688.8 1011.1L1689.3 1004.2L1689.7 1012.7L1690.2 1005.5L1690.6 1008.0L1691.1 1006.4L1691.5 1003.7L1692.0 1007.4L1692.4 1009.2L1692.9 1004.3L1693.3 1003.9L1693.8 1002.2L1694.2 1003.4L1694.7 1007.3L1695.1 1004.3L1695.6 1005.5L1696.0 1003.3L1696.5 1006.0L1696.9 1006.3L1697.4 1006.7L1697.8 1000.6L1698.3 1008.4L1698.7 1003.9L1699.2 1004.6L1699.6 1005.8L1700.1 1000.4L1700.5 1003.5L1701.0 1007.6L1701.4 1006.7L1701.9 1008.6L1702.3 1009.2L1702.8 1009.1L1703.2 1000.3L1703.7 1009.8L1704.1 1006.5L1704.6 1014.6L1705.0 1006.6L1705.5 1005.4L1705.9 1009.9L1706.4 1002.1L1706.8 1005.4L1707.3 1002.9L1707.7 1009.3L1708.2 1003.9L1708.6 1006.0L1709.1 1006.4L1709.5 1007.3L1710.0 1007.4L1710.4 1001.4L1710.9 1008.6L1711.3 1002.7L1711.8 1004.9L1712.2 1013.0L1712.7 1005.2L1713.1 1008.8L1713.6 1007.6L1714.0 1009.2L1714.5 1004.7L1714.9 1004.7L1715.4 1008.2L1715.8 1003.6L1716.3 1011.8L1716.7 1009.9L1717.2 1010.9L1717.6 1004.5L1718.1 1010.7L1718.5 1009.1L1719.0 1010.8L1719.4 1007.2L1719.9 1005.4L1720.3 1010.2L1720.8 1008.8L1721.2 1011.9L1721.7 1013.8L1722.1 1003.6L1722.6 1008.5L1723.0 1001.5L1723.5 1010.3L1723.9 1006.3L1724.4 1009.8L1724.8 1011.5L1725.3 1007.8L1725.7 1006.3L1726.2 1007.6L1726.6 1006.7L1727.1 1010.8L1727.5 1002.8L1728.0 1006.6L1728.4 1002.3L1728.9 1010.8L1729.3 1011.3L1729.8 1004.9L1730.2 1010.2L1730.7 1006.0L1731.1 1009.0L1731.6 1001.3L1732.0 1002.1L1732.5 1001.6L1732.9 1011.6L1733.4 1010.2L1733.8 1006.5L1734.3 1009.2L1734.7 999.6L1735.2 1004.5L1735.6 1005.9L1736.1 1006.4L1736.5 1004.8L1737.0 1006.2L1737.4 1002.2L1737.9 1001.2L1738.3 1009.8L1738.8 1010.3L1739.2 1005.1L1739.7 1007.5L1740.1 1008.5L1740.6 1000.8L1741.0 1001.9L1741.5 1011.5L1741.9 1009.0L1742.4 1003.6L1742.8 1004.0L1743.3 1006.1L1743.7 1004.4L1744.2 1009.0L1744.6 1008.7L1745.1 1003.4L1745.5 1007.3L1746.0 1007.1L1746.4 1007.4L1746.9 1010.8L1747.3 1008.0L1747.8 1007.4L1748.2 1010.0L1748.7 1012.5L1749.1 1013.2L1749.6 1004.2L1750.0 1014.0L1750.5 1010.8L1750.9 1012.2L1751.4 1011.6L1751.8 1010.8L1752.3 1016.6L1752.7 1007.3L1753.2 1012.0L1753.6 1004.4L1754.1 1012.8L1754.5 1009.6L1755.0 1008.8L1755.4 1006.7L1755.9 1006.2L1756.3 1008.3L1756.8 1007.4L1757.2 1005.1L1757.7 1007.3L1758.1 1008.5L1758.6 1010.6L1759.0 1003.9L1759.5 1001.8L1759.9 1005.6L1760.4 1008.4L1760.8 1007.9L1761.3 1004.4L1761.7 1000.2L1762.2 1006.3L1762.6 1008.8L1763.1 1005.7L1763.5 1003.7L1764.0 1011.3L1764.4 1009.7L1764.9 1010.8L1765.3 1008.4L1765.8 1006.6L1766.2 1004.0L1766.7 1007.8L1767.1 1006.3L1767.6 1006.0L1768.0 1007.4L1768.5 1008.8L1768.9 1006.2L1769.4 1009.2L1769.8 1004.9L1770.3 1007.1L1770.7 1007.7L1771.2 1004.9L1771.6 1008.0L1772.1 1006.7L1772.5 1011.2L1773.0 1004.4L1773.4 1006.3L1773.9 1004.9L1774.3 1002.6L1774.8 1000.9L1775.2 1005.4L1775.7 1006.7L1776.1 1008.7L1776.6 1004.7L1777.0 1003.0L1777.5 1005.7L1777.9 1008.3L1778.4 1002.6L1778.8 1004.3L1779.3 1005.5L1779.7 1005.4L1780.2 1000.9L1780.6 1011.6L1781.1 1004.8L1781.5 1007.7L1782.0 1006.8L1782.4 1007.7L1782.9 1010.2L1783.3 1006.2L1783.8 1006.8L1784.2 1006.8L1784.7 1008.3L1785.1 1010.1L1785.6 1001.8L1786.0 1006.5L1786.5 1012.8L1786.9 1009.0L1787.4 1007.6L1787.8 1003.3L1788.3 1006.4L1788.7 1002.6L1789.2 1009.2L1789.6 1010.7L1790.1 1004.0L1790.5 1002.2L1791.0 1007.5L1791.4 1009.8L1791.9 1005.7L1792.3 1004.8L1792.8 1010.5L1793.2 1009.8L1793.7 1007.8L1794.1 1004.8L1794.6 1000.4L1795.0 1006.6L1795.5 1007.2L1795.9 1005.2L1796.4 1004.3L1796.8 1010.4L1797.3 1002.2L1797.7 1004.2L1798.2 1009.4L1798.6 1005.2L1799.1 1007.4L1799.5 1006.6L1800.0 1007.2L1800.4 1009.9L1800.9 1006.4L1801.3 1006.8L1801.8 1007.9L1802.2 1007.8L1802.7 1005.0L1803.1 1006.7L1803.6 1003.7L1804.0 1003.0L1804.5 1008.6L1804.9 1002.3L1805.4 1010.8L1805.8 1011.8L1806.3 1004.0L1806.7 1004.9L1807.2 1004.5L1807.6 998.4L1808.1 1007.6L1808.5 1010.5L1809.0 1008.6L1809.4 1003.7L1809.9 1008.4L1810.3 998.9L1810.8 1010.3L1811.2 1007.2L1811.7 1009.3L1812.1 1008.5L1812.6 1010.9L1813.0 1008.4L1813.5 1006.5L1813.9 1009.6L1814.4 1007.5L1814.8 1003.7L1815.3 1004.2L1815.7 1007.7L1816.2 1004.3L1816.6 1004.0L1817.1 1006.0L1817.5 1002.4L1818.0 1006.4L1818.4 1002.0L1818.9 1000.7L1819.3 1009.5L1819.8 1005.9L1820.2 1002.2L1820.7 1012.1L1821.1 1003.6L1821.6 1002.2L1822.0 1009.3L1822.5 1005.5L1822.9 1009.8L1823.4 1009.2L1823.8 1004.8L1824.3 1005.8L1824.7 1008.5L1825.2 1003.0L1825.6 1005.6L1826.1 1009.8L1826.5 1002.5L1827.0 1004.9L1827.4 1007.1L1827.9 1011.1L1828.3 1010.5L1828.8 1008.4L1829.2 1010.1L1829.7 1007.7L1830.1 1011.1L1830.6 1012.5L1831.0 1006.7L1831.5 1016.3L1831.9 1013.0L1832.4 1010.9L1832.8 1008.8L1833.3 1009.2L1833.7 1012.0L1834.2 1004.9L1834.6 1011.7L1835.1 1008.9L1835.5 1008.5L1836.0 1013.7L1836.4 1008.9L1836.9 1014.2L1837.3 1011.5L1837.8 1007.8L1838.2 1014.7L1838.7 1010.2L1839.1 1014.5L1839.6 1016.9L1840.0 1006.8L1840.5 1009.9L1840.9 1004.0L1841.4 1010.4L1841.8 1012.2L1842.3 1010.5L1842.7 1011.4L1843.2 1007.0L1843.6 1013.0L1844.1 1009.2L1844.5 1007.6L1845.0 1008.1L1845.4 1014.7L1845.9 1008.4L1846.3 1003.5L1846.8 1005.8L1847.2 1007.5L1847.7 1007.3L1848.1 1002.3L1848.6 1003.2L1849.0 1007.0L1849.5 1006.4L1849.9 1005.7L1850.4 1007.4L1850.8 1007.8L1851.3 1002.9L1851.7 1001.2L1852.2 1006.4L1852.6 1006.7L1853.1 1003.5L1853.5 1005.2L1854.0 1005.1L1854.4 1004.2L1854.9 1006.0L1855.3 1011.5L1855.8 1010.1L1856.2 1011.0L1856.7 1011.1L1857.1 1006.6L1857.6 1007.8L1858.0 1004.5L1858.5 1004.0L1858.9 1007.3L1859.4 1010.9L1859.8 1007.6L1860.3 1008.2L1860.7 997.3L1861.2 1003.5L1861.6 1004.5L1862.1 1007.9L1862.5 1005.4L1863.0 1006.2L1863.4 1000.3L1863.9 1007.6L1864.3 1002.4L1864.8 1001.3L1865.2 1008.1L1865.7 1006.9L1866.1 1005.8L1866.6 1006.1L1867.0 1007.5L1867.5 1003.2L1867.9 1001.2L1868.4 1003.0L1868.8 1002.4L1869.3 1005.9L1869.7 1004.2L1870.2 1006.3L1870.6 1003.0L1871.1 1005.8L1871.5 1004.0L1872.0 1005.3L1872.4 1004.4L1872.9 1006.8L1873.3 1006.0L1873.8 1003.0L1874.2 1012.3L1874.7 1013.0L1875.1 1002.5L1875.6 1001.5L1876.0 1007.0L1876.5 1000.3L1876.9 1007.5L1877.4 1003.5L1877.8 1002.9L1878.3 1005.4L1878.7 1009.5L1879.2 1008.9L1879.6 1006.5L1880.1 1002.6L1880.5 1006.1L1881.0 1004.3L1881.4 1006.1L1881.9 1005.3L1882.3 1005.9L1882.8 1006.7L1883.2 1004.6L1883.7 1006.0L1884.1 1008.2L1884.6 1010.6L1885.0 1007.5L1885.5 1007.4L1885.9 1006.1L1886.4 1005.9L1886.8 1003.1L1887.3 1006.4L1887.7 1008.0L1888.2 1007.3L1888.6 1009.5L1889.1 1007.8L1889.5 1008.2L1890.0 1005.5L1890.4 1003.3L1890.9 1013.5L1891.3 1012.4L1891.8 1005.3L1892.2 1004.1L1892.7 1002.3L1893.1 1001.3L1893.6 1004.5L1894.0 1004.4L1894.5 1004.5L1894.9 1009.1L1895.4 1002.7L1895.8 1007.4L1896.3 1014.0L1896.7 1005.0L1897.2 1008.6L1897.6 1004.5L1898.1 1005.0L1898.5 1006.7L1899.0 998.6L1899.4 1008.3L1899.9 1005.4L1900.3 1006.5L1900.8 1007.9L1901.2 1013.3L1901.7 1011.0L1902.1 1009.6L1902.6 1003.9L1903.0 1005.9L1903.5 1008.0L1903.9 1007.7L1904.4 1005.0L1904.8 1006.4L1905.3 1009.2L1905.7 1007.4L1906.2 1003.6L1906.6 1008.3L1907.1 1007.4L1907.5 1006.4L1908.0 1004.1L1908.4 1008.8L1908.9 1005.7L1909.3 1010.0L1909.8 1006.0L1910.2 1002.3L1910.7 1007.9L1911.1 1006.4L1911.6 1009.5L1912.0 1002.4L1912.5 1001.0L1912.9 1002.4L1913.4 1003.1L1913.8 1009.7L1914.3 1009.2L1914.7 1005.2L1915.2 1007.2L1915.6 1003.7L1916.1 1006.1L1916.5 1007.7L1917.0 1005.0L1917.4 1008.0L1917.9 1003.7L1918.3 1013.1L1918.8 1008.2L1919.2 1007.8L1919.7 1005.7L1920.1 1009.2L1920.6 1008.9L1921.0 1005.4L1921.5 1004.4L1921.9 1003.1L1922.4 1006.0L1922.8 1004.2L1923.3 1007.6L1923.7 1009.3L1924.2 1009.6L1924.6 1004.7L1925.1 1000.2L1925.5 1006.7L1926.0 1006.7L1926.4 1010.8L1926.9 1004.6L1927.3 1011.1L1927.8 1010.2L1928.2 1010.3L1928.7 1012.8L1929.1 1007.7L1929.6 1006.9L1930.0 1010.1L1930.5 1002.1L1930.9 1005.7L1931.4 1005.8L1931.8 1006.0L1932.3 1002.0L1932.7 1007.6L1933.2 1006.8L1933.6 1005.8L1934.1 1000.9L1934.5 1005.4L1935.0 1005.3L1935.4 1005.6L1935.9 1004.2L1936.3 1001.9L1936.8 1002.5L1937.2 1005.3L1937.7 1002.0L1938.1 1008.5L1938.6 1002.4L1939.0 1001.0L1939.5 1004.5L1939.9 1002.3L1940.4 1004.5L1940.8 997.6L1941.3 1004.4L1941.7 1001.3L1942.2 1007.2L1942.6 1005.9L1943.1 1003.5L1943.5 1009.8L1944.0 1009.7L1944.4 1008.4L1944.9 1009.7L1945.3 1010.6L1945.8 1001.0L1946.2 1000.4L1946.7 1009.2L1947.1 998.2L1947.6 1004.7L1948.0 1003.7L1948.5 1000.9L1948.9 1009.4L1949.4 1009.6L1949.8 1001.4L1950.3 1004.5L1950.7 1006.0L1951.2 1003.4L1951.6 1002.8L1952.1 1006.7L1952.5 1007.1L1953.0 1007.1L1953.4 1009.6L1953.9 1008.4L1954.3 1000.5L1954.8 1004.7L1955.2 1005.6L1955.7 1001.4L1956.1 1001.5L1956.6 1004.9L1957.0 1007.8L1957.5 1006.2L1957.9 1008.0L1958.4 1002.7L1958.8 1011.0L1959.3 1002.0L1959.7 1004.0L1960.2 1008.3L1960.6 1007.6L1961.1 1007.1L1961.5 999.6L1962.0 1007.2L1962.4 1007.4L1962.9 1008.3L1963.3 1002.7L1963.8 1007.5L1964.2 1009.8L1964.7 1001.4L1965.1 1004.8L1965.6 1001.6L1966.0 1000.8L1966.5 1007.6L1966.9 1003.0L1967.4 1010.5L1967.8 1006.5" stroke="#0063ad" stroke-width="6.8"/>
<path d="M488.8 187.5L498.6 187.5L500.6 202L502.6 211.5L504.6 228L507 246L509 262L510.5 276L491 276L489.5 250Z" fill="#0063ad"/>
<path d="M295.0 1102.3L493.0 1102.3L493.0 380.0L494.5 379.0L494.5 245.0L495.5 236.0L497.5 233.5L500.0 240.0L502.0 258.0L505.3 280.0L533.6 600.0L553.6 860.0L564.0 1000.0L569.0 1040.0L573.2 1070.0L575.8 1090.0L577.0 1099.0L578.5 1102.3L830.5 1102.3L830.8 741.0L832.8 740.0L833.2 625.0L835.0 619.0L838.0 618.0L841.0 621.0L843.8 628.0L846.0 634.0L848.0 641.0L850.2 648.0L852.0 658.0L854.0 669.0L856.2 680.0L858.3 695.0L859.6 716.0L864.4 754.5L868.2 792.6L873.0 830.8L874.9 868.9L877.7 910.0L879.4 924.0L882.8 958.0L886.1 992.0L891.2 1026.0L899.7 1060.0L906.5 1085.0L911.0 1097.0L916.0 1102.3L935.0 1102.3L942.0 1098.6L955.7 1076.6L967.6 1051.0L971.8 1035.4L977.7 1026.0L985.9 1015.4L993.0 1002.4L1000.1 995.0L1009.5 986.5L1018.9 983.8L1026.0 984.5L1037.0 987.5L1049.5 992.5L1060.1 997.5L1071.9 1002.4L1083.7 1007.1L1100.0 1011.0L1113.2 1012.5L1150.9 1012.5L1165.0 1011.0L1178.0 1009.5L1189.7 1007.5L1224.0 1006.5L1280.0 1007.5L1980.0 1008.0" stroke="#ff2f2f" stroke-width="6.6"/>
<path d="M491.5 231L500 231L502.5 248L504.5 268L496.5 272L491.5 272Z" fill="#ff2f2f"/>
<path d="M302.3 1086.0L315.3 1109.7L289.3 1109.7ZM341.8 1086.0L354.8 1109.7L328.8 1109.7ZM393.0 1086.0L406.0 1109.7L380.0 1109.7ZM432.0 1086.0L445.0 1109.7L419.0 1109.7ZM466.0 1086.0L479.0 1109.7L453.0 1109.7ZM502.0 252.2L515.0 275.9L489.0 275.9ZM556.6 904.7L569.6 928.4L543.6 928.4ZM607.6 1086.0L620.6 1109.7L594.6 1109.7ZM654.5 1086.0L667.5 1109.7L641.5 1109.7ZM706.4 1086.0L719.4 1109.7L693.4 1109.7ZM770.2 1086.0L783.2 1109.7L757.2 1109.7ZM829.6 769.7L842.6 793.4L816.6 793.4ZM874.8 868.2L887.8 891.9L861.8 891.9ZM918.4 1086.0L931.4 1109.7L905.4 1109.7ZM980.6 1004.7L993.6 1028.4L967.6 1028.4ZM1037.2 970.7L1050.2 994.4L1024.2 994.4ZM1102.0 994.7L1115.0 1018.4L1089.0 1018.4ZM1165.5 994.7L1178.5 1018.4L1152.5 1018.4ZM1221.4 990.7L1234.4 1014.4L1208.4 1014.4ZM1293.0 991.7L1306.0 1015.4L1280.0 1015.4ZM1365.5 991.7L1378.5 1015.4L1352.5 1015.4ZM1436.2 991.7L1449.2 1015.4L1423.2 1015.4ZM1507.9 991.7L1520.9 1015.4L1494.9 1015.4ZM1580.6 991.7L1593.6 1015.4L1567.6 1015.4ZM1652.1 991.7L1665.1 1015.4L1639.1 1015.4ZM1724.0 991.7L1737.0 1015.4L1711.0 1015.4ZM1795.5 991.7L1808.5 1015.4L1782.5 1015.4ZM1868.3 991.7L1881.3 1015.4L1855.3 1015.4ZM1939.1 991.7L1952.1 1015.4L1926.1 1015.4ZM1969.5 991.7L1982.5 1015.4L1956.5 1015.4Z" fill="#ff2f2f" stroke="none"/>
</g>
<path d="M302.3 158.3H323.5M302.3 394.8H323.5M302.3 631.1H323.5M302.3 866.2H323.5M302.3 1102.4H323.5M718.0 1219.8V1196M1135.8 1219.8V1196M1553.5 1219.8V1196" stroke="#000" stroke-width="6.6" fill="none"/>
<rect x="302.3" y="41.1" width="1667.2" height="1178.7" fill="none" stroke="#000" stroke-width="6.6"/>
<g font-size="76"><text x="277.8" y="180.0" text-anchor="end">2000</text><text x="277.8" y="414.1" text-anchor="end">1500</text><text x="277.8" y="651.0" text-anchor="end">1000</text><text x="277.8" y="885.9" text-anchor="end">500</text><text x="277.8" y="1122.1" text-anchor="end">0</text><text x="301.9" y="1297.8" text-anchor="middle">0.0</text><text x="717.0" y="1297.8" text-anchor="middle">0.5</text><text x="1137.2" y="1297.8" text-anchor="middle">1.0</text><text x="1550.2" y="1297.8" text-anchor="middle">1.5</text><text x="1967.8" y="1297.8" text-anchor="middle">2.0</text>
</g><g font-size="77.5">
<text x="1018.4" y="1375.1" textLength="151.3" lengthAdjust="spacingAndGlyphs">Time</text>
<text x="1188.0" y="1375.1" textLength="80.0" lengthAdjust="spacingAndGlyphs">(s)</text>
<text transform="translate(89.3 1140.2) rotate(-90)" textLength="237.8" lengthAdjust="spacingAndGlyphs">Vertical</text>
<text transform="translate(89.3 878.8) rotate(-90)" textLength="353.0" lengthAdjust="spacingAndGlyphs">Touchdown</text>
<text transform="translate(89.3 507.7) rotate(-90)" textLength="171.6" lengthAdjust="spacingAndGlyphs">Force</text>
<text transform="translate(89.3 317.9) rotate(-90)" textLength="102.8" lengthAdjust="spacingAndGlyphs">(N)</text>
</g>
<g font-size="63">
<text x="1601.2" y="131.1" textLength="292.9" lengthAdjust="spacingAndGlyphs">Experiment</text>
<text x="1601.5" y="224.5" textLength="273.3" lengthAdjust="spacingAndGlyphs">Simulation</text>
</g>
<path d="M1430.6 105.9H1566.2" stroke="#0063ad" stroke-width="7" stroke-linecap="round"/>
<path d="M1430.6 201.8H1566.2" stroke="#ff2f2f" stroke-width="6.8" stroke-linecap="round"/>
<path d="M1499.0 185.0L1511.0 207.0L1487.0 207.0Z" fill="#ff2f2f"/>
</svg>
</body></html>
